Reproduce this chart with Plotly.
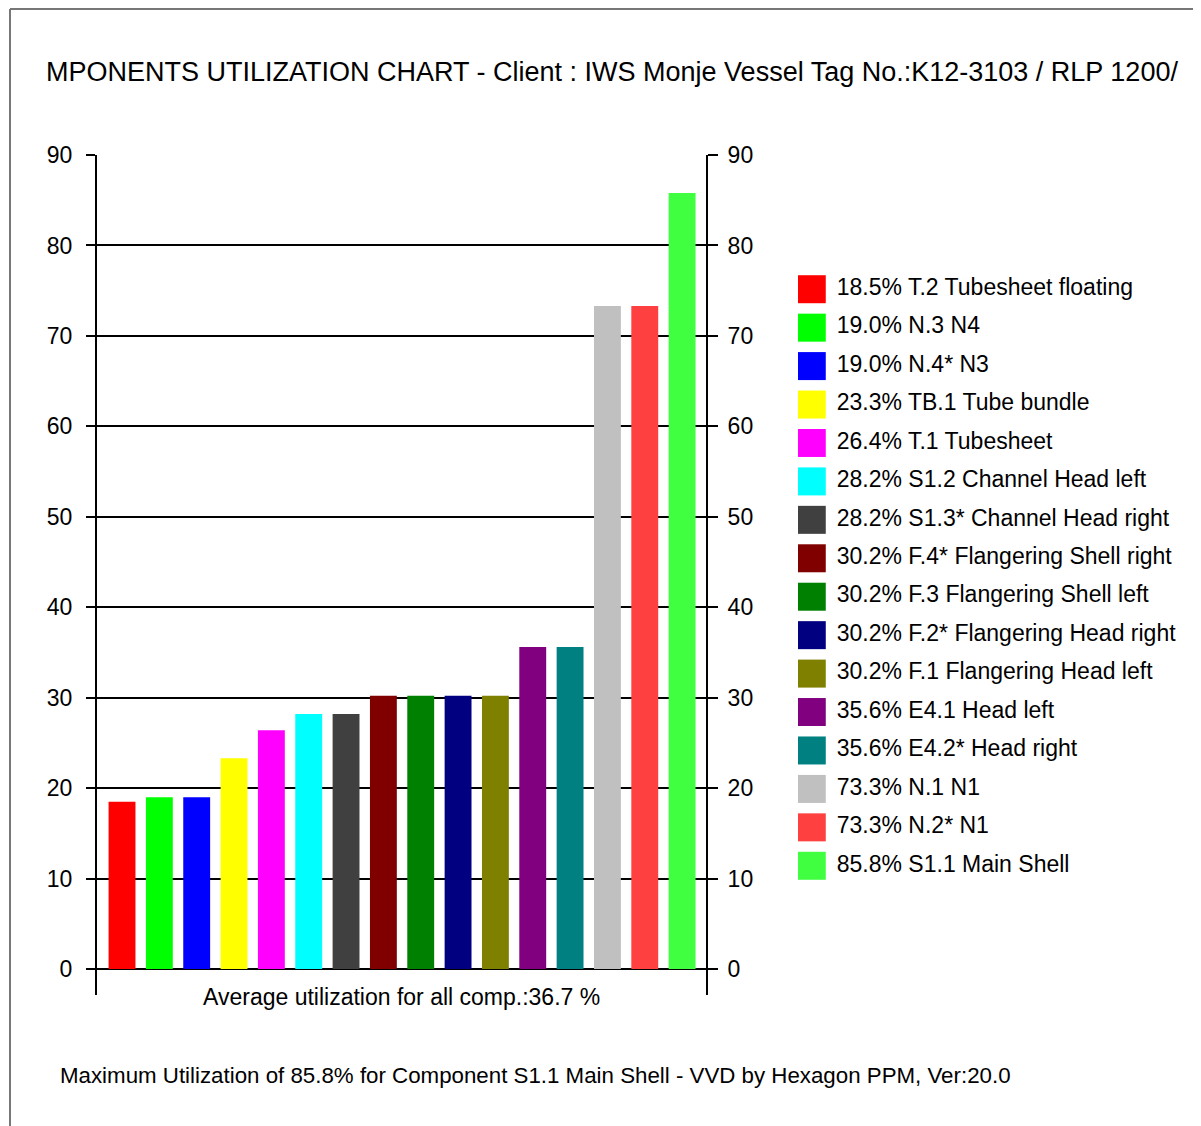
import plotly.graph_objects as go

W, H = 1201, 1126
OFF = 8  # the page body margin shifts the figure by this much

components = [
    "T.2 Tubesheet floating", "N.3 N4", "N.4* N3", "TB.1 Tube bundle",
    "T.1 Tubesheet", "S1.2 Channel Head left", "S1.3* Channel Head right",
    "F.4* Flangering Shell right", "F.3 Flangering Shell left",
    "F.2* Flangering Head right", "F.1 Flangering Head left",
    "E4.1 Head left", "E4.2* Head right", "N.1 N1", "N.2* N1", "S1.1 Main Shell",
]
utilization = [18.5, 19.0, 19.0, 23.3, 26.4, 28.2, 28.2, 30.2, 30.2, 30.2, 30.2,
               35.6, 35.6, 73.3, 73.3, 85.8]
colors = ["#FF0000", "#00FF00", "#0000FF", "#FFFF00", "#FF00FF", "#00FFFF",
          "#404040", "#800000", "#008000", "#000080", "#808000", "#800080",
          "#008080", "#C0C0C0", "#FF4040", "#40FF40"]
y_ticks = [0, 10, 20, 30, 40, 50, 60, 70, 80, 90]

title_text = "MPONENTS UTILIZATION CHART - Client : IWS Monje Vessel Tag No.:K12-3103 / RLP 1200/"
avg_text = "Average utilization for all comp.:36.7 %"
footer_text = "Maximum Utilization of 85.8% for Component S1.1 Main Shell - VVD by Hexagon PPM, Ver:20.0"

FONT = "Arial, Liberation Sans, sans-serif"
legend_labels = [f"{v:.1f}% {c}" for v, c in zip(utilization, components)]
idx = list(range(len(components)))


def px(x):
    return (x - OFF) / W


def py(y):
    return (H - (y - OFF)) / H


fig = go.Figure()

fig.add_trace(go.Bar(
    x=idx, y=utilization, marker=dict(color=colors, line=dict(width=0)),
    showlegend=False, hovertext=legend_labels, hoverinfo="text",
))
# invisible trace to activate the right axis
fig.add_trace(go.Scatter(x=[0], y=[0], yaxis="y2", mode="markers",
                         marker=dict(opacity=0), showlegend=False, hoverinfo="skip"))

# hand-built legend
fig.add_trace(go.Scatter(
    x=[13.5] * len(idx), y=idx, xaxis="x3", yaxis="y3", mode="markers",
    marker=dict(symbol="square", size=28, color=colors, line=dict(width=0)),
    showlegend=False, hoverinfo="skip",
))
fig.add_trace(go.Scatter(
    x=[38] * len(idx), y=idx, xaxis="x3", yaxis="y3", mode="text",
    text=legend_labels, textposition="middle right",
    textfont=dict(family=FONT, size=23, color="#000"),
    showlegend=False, hoverinfo="skip",
))

yax = dict(
    range=[-2.875, 90], tickvals=y_ticks, showline=True, linecolor="#000", linewidth=2,
    ticks="outside", ticklen=9, tickwidth=2, tickcolor="#000",
    showgrid=True, gridcolor="#000", gridwidth=2, zeroline=False, automargin=False,
    tickfont=dict(family=FONT, size=23, color="#000"), fixedrange=True,
)

fig.update_layout(
    width=W, height=H, margin=dict(l=0, r=0, t=0, b=0, autoexpand=False),
    paper_bgcolor="white", plot_bgcolor="white",
    bargap=0.28,
    xaxis=dict(domain=[px(97), px(706)], range=[-0.67, 15.64], showgrid=False,
               zeroline=False, showline=False, showticklabels=False, ticks="",
               automargin=False),
    yaxis=dict(domain=[py(995), py(155)], ticklabelstandoff=9, **yax),
    yaxis2=dict(overlaying="y", side="right", anchor="x", ticklabelstandoff=5,
                **{**yax, "ticklen": 10, "showgrid": False}),
    xaxis3=dict(domain=[px(798), 1], range=[0, 403], visible=False, anchor="y3",
                automargin=False),
    yaxis3=dict(domain=[py(885), py(270)], range=[15.5, -0.5], visible=False,
                anchor="x3", automargin=False),
    shapes=[
        dict(type="line", xref="paper", yref="paper", x0=px(10), x1=1, y0=py(9), y1=py(9),
             line=dict(color="#777", width=2)),
        dict(type="line", xref="paper", yref="paper", x0=px(10), x1=px(10), y0=py(9), y1=0,
             line=dict(color="#777", width=2)),
    ],
    annotations=[
        dict(text=title_text, xref="paper", yref="paper", x=px(44), y=py(72),
             xanchor="left", yanchor="middle", showarrow=False,
             font=dict(family=FONT, size=27, color="#000")),
        dict(text=avg_text, xref="paper", yref="paper", x=px(401), y=py(997),
             xanchor="center", yanchor="middle", showarrow=False,
             font=dict(family=FONT, size=23, color="#000")),
        dict(text=footer_text, xref="paper", yref="paper", x=px(58), y=py(1075),
             xanchor="left", yanchor="middle", showarrow=False,
             font=dict(family=FONT, size=22.3, color="#000")),
    ],
)

fig.write_html("out.html")
